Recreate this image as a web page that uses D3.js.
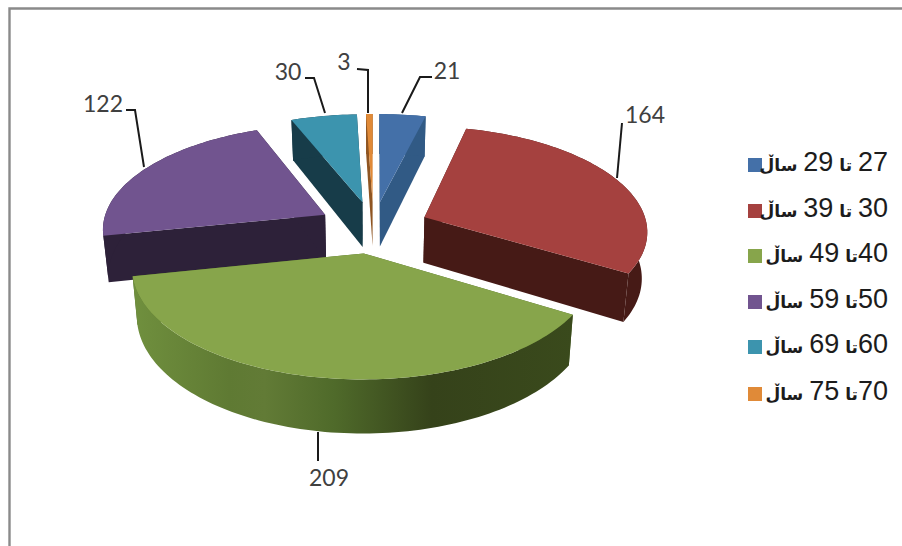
<!DOCTYPE html>
<html><head><meta charset="utf-8">
<script src="https://cdn.jsdelivr.net/npm/d3@7"></script>
<style>html,body{margin:0;padding:0;background:#fff}svg{display:block}</style>
</head><body>
<svg id="c" width="902" height="546"></svg>
<script>
const ages = ["27 تا 29","30 تا 39","40تا 49","50تا 59","60تا 69","70تا 75"];
const unit = "ساڵ";
const counts = [21,164,209,122,30,3];
const topColors = ["#4470a8","#a5413f","#87a54b","#71548f","#3c94ae","#e08a38"];
const sideColors = ["#315a85","#461a16","#4f6a2a","#2d2139","#173c49","#8f5522"];
const greenStops = [[0,"#70903e"],[0.22,"#5f7a33"],[0.3,"#627b36"],[0.46,"#4f6a2a"],[0.68,"#35421a"],[1,"#3a4a1c"]];

// layout
const cx=373.5, cy=227, kx=223, ky=104, persp=0.12, explode=0.25, depth=46, converge=0.02;
const leaders = [
 [[402,113],[420,77],[432,77]],
 [[368,113],[368,70],[357,69]],
 [[325,113],[314,78],[305,78]],
 [[144,167],[135,110],[126,110]],
 [[617,178],[622,123]],
 [[318,432],[318,461]]];
const labelPos = [[447,71,"middle"],[344,62,"middle"],[288,72,"middle"],[103,104,"middle"],[645,115,"middle"],[329,478,"middle"]];
const leaderIdx = [0,4,5,3,2,1];
const legendY = [165,211,256,302,347,394];

const svg = d3.select("#c");
const defs = svg.append("defs");
const grad = defs.append("linearGradient").attr("id","gw").attr("gradientUnits","userSpaceOnUse")
  .attr("x1",132).attr("x2",573).attr("y1",0).attr("y2",0);
greenStops.forEach(s=>grad.append("stop").attr("offset",s[0]).attr("stop-color",s[1]));

// frame
svg.append("path").attr("d","M9.5,546V8.5H902").attr("fill","none").attr("stroke","#8a8a8a").attr("stroke-width",2.4);

const arcs = d3.pie().sort(null).value(d=>d).startAngle(0).endAngle(2*Math.PI)(counts);
const xS = d3.scaleLinear().domain([-1,1]).range([cx-kx,cx+kx]);
const yS = d3.scaleLinear().domain([-1,1]).range([cy+ky,cy-ky]);
const line = d3.line().curve(d3.curveLinear);

function P(sl,a,r,low){
  const m=(sl.startAngle+sl.endAngle)/2;
  const u=explode*Math.sin(m)+r*Math.sin(a), v=explode*Math.cos(m)+r*Math.cos(a);
  const w=1+persp*v;
  const x=xS(u/w);
  return low ? [cx+(x-cx)*(1-converge), yS(v/w)+depth/(1+persp*v)] : [x, yS(v/w)];
}
function arcPts(sl,low){
  const n=Math.max(4,Math.ceil((sl.endAngle-sl.startAngle)*40));
  return d3.range(n+1).map(i=>P(sl,sl.startAngle+(sl.endAngle-sl.startAngle)*i/n,1,low));
}
const order=[4,5,0,3,1,2];
order.forEach(i=>{
  const sl=arcs[i], g=svg.append("g");
  const side=sideColors[i];
  g.append("path").attr("d",line([P(sl,sl.startAngle,0,0),P(sl,sl.startAngle,1,0),P(sl,sl.startAngle,1,1),P(sl,sl.startAngle,0,1)])+"Z").attr("fill",side);
  g.append("path").attr("d",line([P(sl,sl.endAngle,0,0),P(sl,sl.endAngle,1,0),P(sl,sl.endAngle,1,1),P(sl,sl.endAngle,0,1)])+"Z").attr("fill",side);
  g.append("path").attr("d",line(arcPts(sl,0).concat(arcPts(sl,1).reverse()))+"Z").attr("fill",i===2?"url(#gw)":side);
  g.append("path").attr("d",line([P(sl,sl.startAngle,0,0)].concat(arcPts(sl,0)))+"Z").attr("fill",topColors[i]);
});

// leaders and labels
const lab=svg.append("g").attr("font-family","Lato, 'Open Sans', sans-serif").attr("font-size",23).attr("fill","#404040");
counts.forEach((c,i)=>{
  const k=leaderIdx[i];
  svg.append("path").attr("d",line(leaders[k])).attr("fill","none").attr("stroke","#1a1a1a").attr("stroke-width",2);
  lab.append("text").attr("x",labelPos[k][0]).attr("y",labelPos[k][1]).attr("dy","0.35em").attr("text-anchor",labelPos[k][2]).text(c);
});

// legend
const leg=svg.append("g");
ages.forEach((a,i)=>{
  leg.append("rect").attr("x",748).attr("y",legendY[i]-7).attr("width",14).attr("height",14).attr("fill",topColors[i]);
  const t=leg.append("text").attr("x",888).attr("y",legendY[i]).attr("dy","0.35em").attr("direction","rtl").attr("text-anchor","start")
    .attr("fill","#1c1c1c");
  (a+" "+unit).split(/(\d+)/).filter(s=>s.length).forEach(run=>{
    const digits=/\d/.test(run);
    t.append("tspan").attr("font-family",digits?"'Liberation Sans',sans-serif":"'DejaVu Sans',sans-serif")
      .attr("font-size",digits?27:17).attr("font-weight",digits?"normal":"bold").text(run);
  });
});
</script>
</body></html>
